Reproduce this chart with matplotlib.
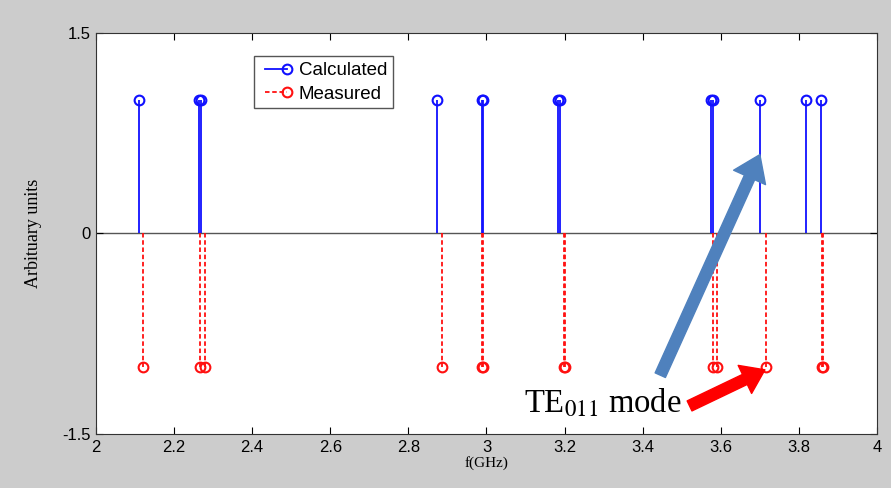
import matplotlib
matplotlib.use("Agg")
import matplotlib.pyplot as plt
from matplotlib.lines import Line2D
from matplotlib.legend_handler import HandlerLine2D
import numpy as np

# Data (frequencies in GHz)
calc_f = [2.110, 2.264, 2.268, 2.874, 2.988, 2.992, 3.184, 3.188,
          3.575, 3.579, 3.700, 3.818, 3.856]
calc_v = [1.0] * len(calc_f)
meas_f = [2.120, 2.266, 2.279, 2.885, 2.988, 2.991, 3.199, 3.202,
          3.581, 3.590, 3.715, 3.859, 3.862]
meas_v = [-1.0] * len(meas_f)
xticks = [2, 2.2, 2.4, 2.6, 2.8, 3, 3.2, 3.4, 3.6, 3.8, 4]
xticklabels = ["2", "2.2", "2.4", "2.6", "2.8", "3", "3.2", "3.4", "3.6", "3.8", "4"]
yticks = [-1.5, 0, 1.5]
yticklabels = ["-1.5", "0", "1.5"]

BLUE = "#1010ff"
RED = "#ff1010"


class EndMarkerHandler(HandlerLine2D):
    def create_artists(self, legend, orig_handle, xdescent, ydescent, width, height,
                       fontsize, trans):
        arts = super().create_artists(legend, orig_handle, xdescent, ydescent, width,
                                      height, fontsize, trans)
        for a in arts:
            xd = a.get_xdata()
            if len(xd) >= 2:
                a.set_markevery([len(xd) - 1])
        return arts


fig = plt.figure(figsize=(8.91, 4.88), dpi=100, facecolor="#cccccc")
ax = fig.add_axes([0.1077, 0.1107, 0.8766, 0.8217])
ax.set_facecolor("white")

sans = ["Liberation Sans", "DejaVu Sans"]
serif = ["Liberation Serif", "DejaVu Serif"]

ml, sl, bl = ax.stem(calc_f, calc_v, linefmt="-", markerfmt="o", basefmt=" ")
plt.setp(sl, color=BLUE, linewidth=1.3)
plt.setp(ml, color=BLUE, markerfacecolor="none", markersize=7, markeredgewidth=1.5)

ml2, sl2, bl2 = ax.stem(meas_f, meas_v, linefmt="--", markerfmt="o", basefmt=" ")
plt.setp(sl2, color=RED, linewidth=1.3, linestyle=(0, (2.5, 1.5)))
plt.setp(ml2, color=RED, markerfacecolor="none", markersize=7, markeredgewidth=1.5)

ax.axhline(0, color="#555555", linewidth=1.0, zorder=1)

ax.set_xlim(2, 4)
ax.set_ylim(-1.5, 1.5)
ax.set_xticks(xticks)
ax.set_xticklabels(xticklabels, fontfamily=sans, fontsize=12)
ax.set_yticks(yticks)
ax.set_yticklabels(yticklabels, fontfamily=sans, fontsize=12)
ax.tick_params(direction="in", length=5, width=0.8, top=True, right=True, pad=4)
for s in ax.spines.values():
    s.set_color("#333333")
    s.set_linewidth(0.8)

ax.set_xlabel("f(GHz)", fontfamily=serif, fontsize=11, labelpad=1)
ax.set_ylabel("Arbituary units", fontfamily=serif, fontsize=13, labelpad=14)

h1 = Line2D([], [], color=BLUE, linewidth=1.3, marker="o", markerfacecolor="none",
            markersize=7, markeredgewidth=1.5)
h2 = Line2D([], [], color=RED, linewidth=1.3, linestyle=(0, (2.5, 1.5)), marker="o",
            markerfacecolor="none", markersize=7, markeredgewidth=1.5)
leg = ax.legend([h1, h2], ["Calculated", "Measured"], loc="upper left",
                bbox_to_anchor=(0.19, 0.965), prop={"family": sans, "size": 13.5},
                fancybox=False, edgecolor="#555555", framealpha=1, handlelength=1.8,
                numpoints=2, handletextpad=0.3, borderpad=0.3, labelspacing=0.35,
                handler_map={Line2D: EndMarkerHandler()})

# Annotations
ax.annotate("", xy=(3.700, 0.59), xytext=(3.445, -1.06),
            arrowprops=dict(arrowstyle="simple,head_length=1.0,head_width=1.4,tail_width=0.45",
                            color="#4f81bd", mutation_scale=18, shrinkA=0, shrinkB=0))
ax.annotate("", xy=(3.713, -1.02), xytext=(3.52, -1.29),
            arrowprops=dict(arrowstyle="simple,head_length=1.0,head_width=1.4,tail_width=0.5",
                            color="#ff0000", mutation_scale=16, shrinkA=0, shrinkB=0))
ax.text(3.095, -1.27, "TE$_{011}$ mode", fontfamily=serif, fontsize=23.5, va="center", ha="left",
        math_fontfamily="stix")

fig.savefig("out.png", dpi=100, facecolor=fig.get_facecolor())
